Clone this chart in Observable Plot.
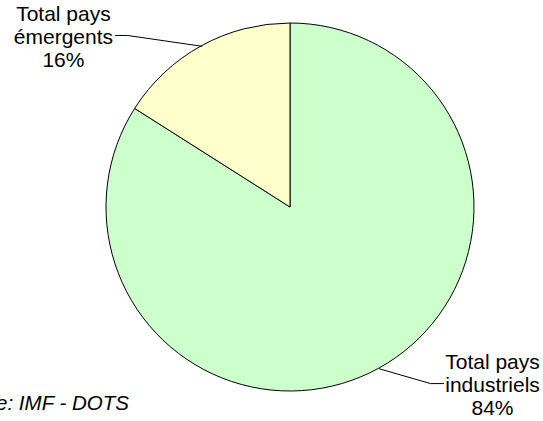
<!DOCTYPE html>
<html><head><meta charset="utf-8">
<script src="https://cdn.jsdelivr.net/npm/d3@7"></script>
<script src="https://cdn.jsdelivr.net/npm/@observablehq/plot@0.6"></script>
<style>body{margin:0;background:#fff;} svg{display:block;}</style>
</head><body><div id="chart"></div>
<script>
// ---- data ----
const categories = ["Total pays industriels", "Total pays émergents"];
const labelLines = [["Total pays", "industriels"], ["Total pays", "émergents"]];
const shares = [84, 16];
const source = "Source: IMF - DOTS";

// ---- style / layout (unit = pie radius, y downward) ----
const colors = ["#CCFFCC", "#FFFFCC"];
const labelAt = [[1.098, 0.962], [-1.234, -0.93]];
const elbowAt = [[0.761, 0.957], [-0.886, -0.935]];
const leaderEnd = [[0.832, 0.957], [-0.951, -0.935]];
const sourceAt = [-0.878, 1.065];

const data = categories.map((c, i) => ({category: c, share: shares[i], lines: labelLines[i]}));
const slices = d3.pie().sort(null).value(d => d.share)(data);

const leaders = slices.flatMap((s, i) => {
  const a = (s.startAngle + s.endAngle) / 2;
  return [
    {k: i, x: Math.sin(a), y: -Math.cos(a)},
    {k: i, x: elbowAt[i][0], y: elbowAt[i][1]},
    {k: i, x: leaderEnd[i][0], y: leaderEnd[i][1]}
  ];
});
const labels = data.map((d, i) => ({x: labelAt[i][0], y: labelAt[i][1], text: d.lines.join("\n") + "\n" + d.share + "%"}));

function pieMark(index, scales) {
  const cx = scales.x(0), cy = scales.y(0), r = scales.x(1) - cx;
  const arc = d3.arc().innerRadius(0).outerRadius(r);
  const g = d3.create("svg:g").attr("transform", `translate(${cx},${cy})`);
  g.selectAll("path").data(slices).join("path")
    .attr("d", arc)
    .attr("fill", (d, i) => colors[i])
    .attr("stroke", "#000")
    .attr("stroke-width", 1);
  return g.node();
}

const chart = Plot.plot({
  width: 543,
  height: 421,
  margin: 0,
  style: {background: "#fff", fontFamily: "'Liberation Sans', Arial, sans-serif"},
  x: {domain: [-1, 1], range: [106, 474], axis: null},
  y: {domain: [-1, 1], range: [23, 391], axis: null},
  marks: [
    pieMark,
    Plot.line(leaders, {x: "x", y: "y", z: "k", stroke: "#000", strokeWidth: 1}),
    Plot.text(labels, {x: "x", y: "y", text: "text", fontSize: 21, lineHeight: 1.1, lineAnchor: "middle", textAnchor: "middle", fill: "#000"}),
    Plot.text([source], {x: () => sourceAt[0], y: () => sourceAt[1], text: d => d, fontSize: 20.5, fontStyle: "italic", textAnchor: "end", lineAnchor: "middle", fill: "#000"})
  ]
});
document.getElementById("chart").appendChild(chart);
</script>
</body></html>
